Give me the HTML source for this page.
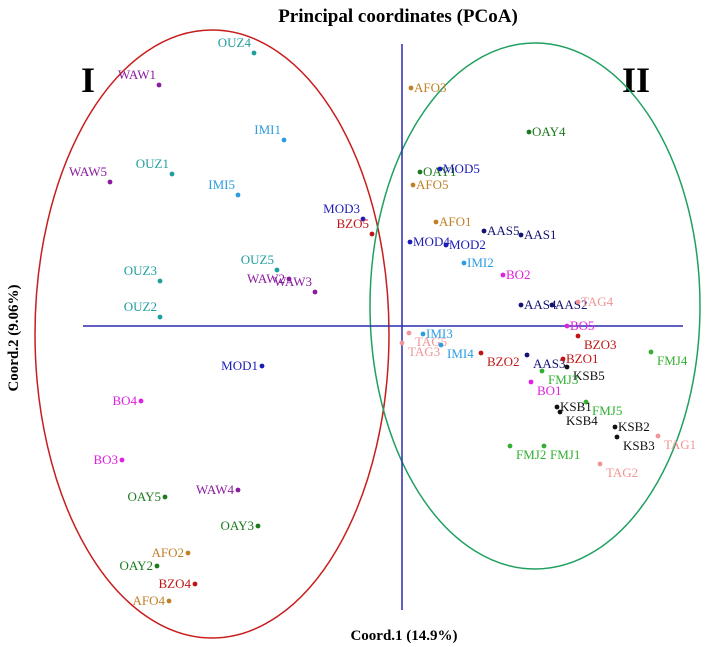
<!DOCTYPE html>
<html><head><meta charset="utf-8">
<style>
html,body{margin:0;padding:0;background:#fff;overflow:hidden;width:708px;height:647px;}
svg{display:block;}
svg text{font-family:"Liberation Serif",serif;}
</style></head>
<body>
<svg id="chart" width="708" height="647" viewBox="0 0 708 647" xmlns="http://www.w3.org/2000/svg">
  <text x="398" y="22" font-size="19" font-weight="bold" text-anchor="middle">Principal coordinates (PCoA)</text>
  <text x="88" y="92" font-size="36" font-weight="bold" text-anchor="middle">I</text>
  <text x="636" y="92" font-size="36" font-weight="bold" text-anchor="middle">II</text>
  <ellipse cx="212" cy="334" rx="177" ry="304" fill="none" stroke="#c81e1e" stroke-width="1.5"/>
  <ellipse cx="535" cy="306" rx="165" ry="263" fill="none" stroke="#20a060" stroke-width="1.5"/>
  <line x1="83" y1="326" x2="683" y2="326" stroke="#2a2ab0" stroke-width="1.5"/>
  <line x1="402" y1="44" x2="402" y2="610" stroke="#2a2ab0" stroke-width="1.5"/>
  <text x="404" y="640" font-size="15" font-weight="bold" text-anchor="middle">Coord.1 (14.9%)</text>
  <text x="0" y="0" font-size="15" font-weight="bold" text-anchor="middle" transform="translate(18,338) rotate(-90)">Coord.2 (9.06%)</text>
  <g id="points"></g>
</svg>
<script>
const names = ["OUZ4","WAW1","IMI1","OUZ1","WAW5","IMI5","MOD3","BZO5","OUZ5","WAW2","WAW3","OUZ3","OUZ2","MOD1","BO4","BO3","WAW4","OAY5","OAY3","AFO2","OAY2","BZO4","AFO4",
"AFO3","OAY4","OAY1","MOD5","AFO5","AFO1","AAS5","AAS1","MOD4","MOD2","IMI2","BO2","AAS4","AAS2","TAG4","BO5","BZO3","TAG5","IMI3","IMI4","TAG3","BZO2","AAS3","BZO1","KSB5","FMJ3","BO1","FMJ4","FMJ5","KSB1","KSB4","KSB2","KSB3","TAG1","FMJ2","FMJ1","TAG2"];
const xs = [-1.48,-2.43,-1.18,-2.30,-2.92,-1.64,-0.39,-0.30,-1.25,-1.13,-0.87,-2.42,-2.42,-1.40,-2.61,-2.80,-1.64,-2.37,-1.44,-2.14,-2.45,-2.07,-2.33,
0.09,1.27,0.18,0.38,0.11,0.34,0.82,1.19,0.08,0.44,0.62,1.01,1.19,1.50,1.76,1.65,1.76,0.07,0.21,0.39,0.00,0.79,1.25,1.61,1.65,1.40,1.29,2.49,1.84,1.55,1.58,2.13,2.15,2.56,1.08,1.42,1.98];
const ys = [2.73,2.41,1.86,1.52,1.44,1.31,1.07,0.92,0.56,0.47,0.34,0.45,0.09,-0.40,-0.75,-1.34,-1.64,-1.71,-2.00,-2.27,-2.40,-2.58,-2.75,
2.38,1.94,1.54,1.57,1.41,1.04,0.95,0.91,0.84,0.81,0.63,0.51,0.21,0.21,0.24,0.00,-0.10,-0.07,-0.08,-0.19,-0.17,-0.27,-0.29,-0.33,-0.41,-0.45,-0.56,-0.26,-0.76,-0.81,-0.86,-1.01,-1.11,-1.10,-1.20,-1.20,-1.38];
const groupColors = {OUZ:"#1f9e9e",WAW:"#8a1a9e",IMI:"#2b9de0",MOD:"#1c1cb8",BZO:"#c01515",BO:"#e020e0",OAY:"#1b7a1b",AFO:"#c08028",AAS:"#121270",TAG:"#f29595",FMJ:"#32b032",KSB:"#111111"};
// label placement (style only)
const sides = ["ul","ul","ul","ul","ul","ul","ul","ul","ul","l","ul","ul","ul","l","l","l","l","l","l","l","l","l","l",
"r","r","r","r","r","r","r","r","r","r","r","r","r","r","r","r","br","br","r","br","br","br","br","r","br","br","br","br","br","r","br","r","br","br","br","br","br"];
function sx(v){return 402+v*100;}
function sy(v){return 326-v*100;}
const g=document.getElementById('points');
const NS="http://www.w3.org/2000/svg";
names.forEach((n,i)=>{
  const col=groupColors[n.replace(/\d+$/,'')];
  const x=sx(xs[i]), y=sy(ys[i]);
  const c=document.createElementNS(NS,'circle');
  c.setAttribute('cx',x);c.setAttribute('cy',y);c.setAttribute('r',2.4);c.setAttribute('fill',col);
  
  
  g.appendChild(c);
  const t=document.createElementNS(NS,'text');
  let tx=x+3,ty=y+4,anc='start';
  const s=sides[i];
  if(s==='l'){tx=x-4;anc='end';}
  else if(s==='ul'){tx=x-3;ty=y-6;anc='end';}
  else if(s==='br'){tx=x+6;ty=y+13;}
  t.setAttribute('x',tx);t.setAttribute('y',ty);t.setAttribute('text-anchor',anc);
  t.setAttribute('font-size','13');t.setAttribute('fill',col);
  t.textContent=n;
  
  
  g.appendChild(t);
});
</script>
</body></html>
